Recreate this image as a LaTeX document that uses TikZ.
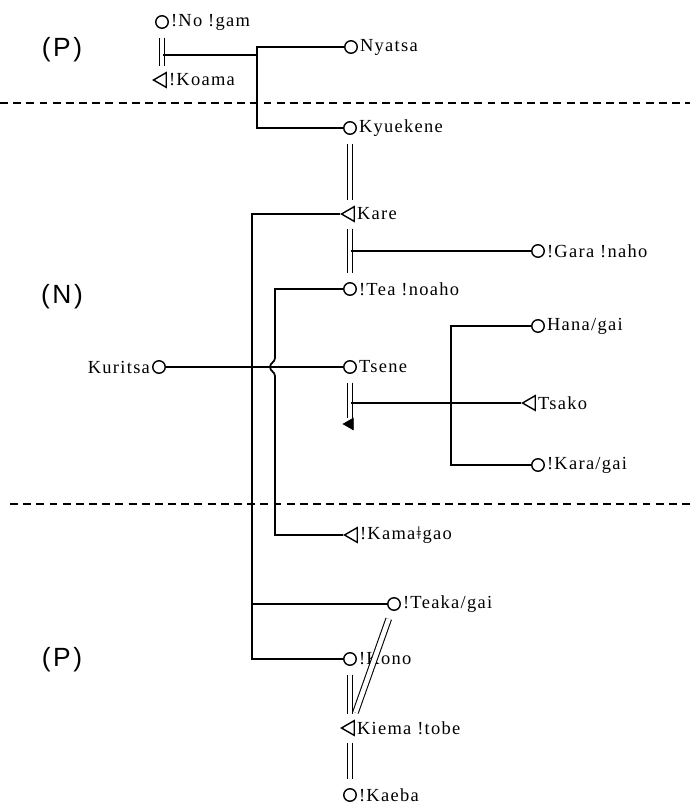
\documentclass[tikz,border=0pt]{standalone}
\usepackage{fontspec}
\setmainfont{Liberation Serif}[LetterSpace=7]
\newfontfamily\tagfont{Liberation Sans}[LetterSpace=10]
\usetikzlibrary{shapes.geometric,calc}
\tikzset{
    lbl/.style={inner sep=1pt,font=\fontsize{10.5}{12}\selectfont},
    man/.style={regular polygon,regular polygon sides=3,shape border rotate=90,
        draw,line width=0.8pt,minimum size=0.34cm,inner sep=0pt},
    woman/.style={circle,draw,line width=0.8pt,minimum size=0.25cm,inner sep=0pt},
    dead/.style={regular polygon,regular polygon sides=3,shape border rotate=90,
        fill,draw,minimum size=0.27cm,inner sep=0pt},
    tie/.style={line width=1pt},
    wed/.style={double,line width=0.6pt,double distance=2.6pt,shorten <=5pt,shorten >=5pt},
    border/.style={dashed,line width=0.7pt,dash pattern=on 4.5pt off 3pt},
    tag/.style={font=\tagfont\fontsize{15}{17}\selectfont}
}
\begin{document}
\begin{tikzpicture}[x=0.02cm,y=-0.02cm]
\useasboundingbox (0,0) rectangle (690,812);

\node[tag] (p1) at (62,50) {(P)};
\node[tag] (n1) at (62,297) {(N)};
\node[tag] (p2) at (62,660) {(P)};
\draw[border] (0,103) -- (690,103);
\draw[border] (10,504) -- (690,504);

% persons
\node[woman,label={[lbl]right:!No !gam}] (nogam) at (162,22) {};
\node[man,label={[lbl]right:!Koama}] (koama) at (162,80) {};
\node[woman,label={[lbl]right:Nyatsa}] (nyatsa) at (351,47) {};
\node[woman,label={[lbl]right:Kyuekene}] (kyuekene) at (350,128) {};
\node[man,label={[lbl]right:Kare}] (kare) at (350,214) {};
\node[woman,label={[lbl]right:!Gara !naho}] (gara) at (538,251) {};
\node[woman,label={[lbl]right:!Tea !noaho}] (tea) at (350,289) {};
\node[woman,label={[lbl]left:Kuritsa}] (kuritsa) at (159,367) {};
\node[woman,label={[lbl]right:Tsene}] (tsene) at (350,367) {};
\node[dead] (tsend) at (350,424) {};
\node[woman,label={[lbl]right:Hana/gai}] (hana) at (538,326) {};
\node[man,label={[lbl]right:Tsako}] (tsako) at (531,403) {};
\node[woman,label={[lbl]right:!Kara/gai}] (kara) at (538,465) {};
\node[man,label={[lbl]right:!Kamaǂgao}] (kamagao) at (353,535) {};
\node[woman,label={[lbl]right:!Teaka/gai}] (teaka) at (394,604) {};
\node[woman,label={[lbl]right:!Kono}] (kono) at (350,659) {};
\node[man,label={[lbl]right:Kiema !tobe}] (kiema) at (350,728) {};
\node[woman,label={[lbl]right:!Kaeba}] (kaeba) at (350,795) {};

\coordinate (m1) at (163,55);
\coordinate (j1) at (257,55);
\coordinate (m2) at (351,251);
\coordinate (h1) at (275,358);
\coordinate (hc) at (270,367);
\coordinate (h2) at (275,376);
\coordinate (m3) at (351,403);
\coordinate (j3) at (451,403);
\coordinate (j4) at (252,604);

% marriages
\draw[wed] (nogam) -- (koama);
\draw[wed] (kyuekene) -- (kare);
\draw[wed] (kare) -- (tea);
\draw[wed,shorten >=1pt] (tsene) -- (tsend);
\draw[wed] (teaka) -- (kiema);
\draw[wed] (kono) -- (kiema);
\draw[wed] (kiema) -- (kaeba);

% descent
\draw[tie] (m1) -- (j1);
\draw[tie] (nyatsa) -| (j1) |- (kyuekene);
\draw[tie] (m2) -- (gara);
\draw[tie] (kare) -| (j4) |- (teaka);
\draw[tie] (j4) |- (kono);
\draw[tie] (kuritsa) -- (tsene);
\draw[tie] (tea) -| (h1) to[out=-90,in=90] (hc) to[out=-90,in=90] (h2) |- (kamagao);
\draw[tie] (m3) -- (tsako);
\draw[tie] (hana) -| (j3) |- (kara);
\end{tikzpicture}
\end{document}
